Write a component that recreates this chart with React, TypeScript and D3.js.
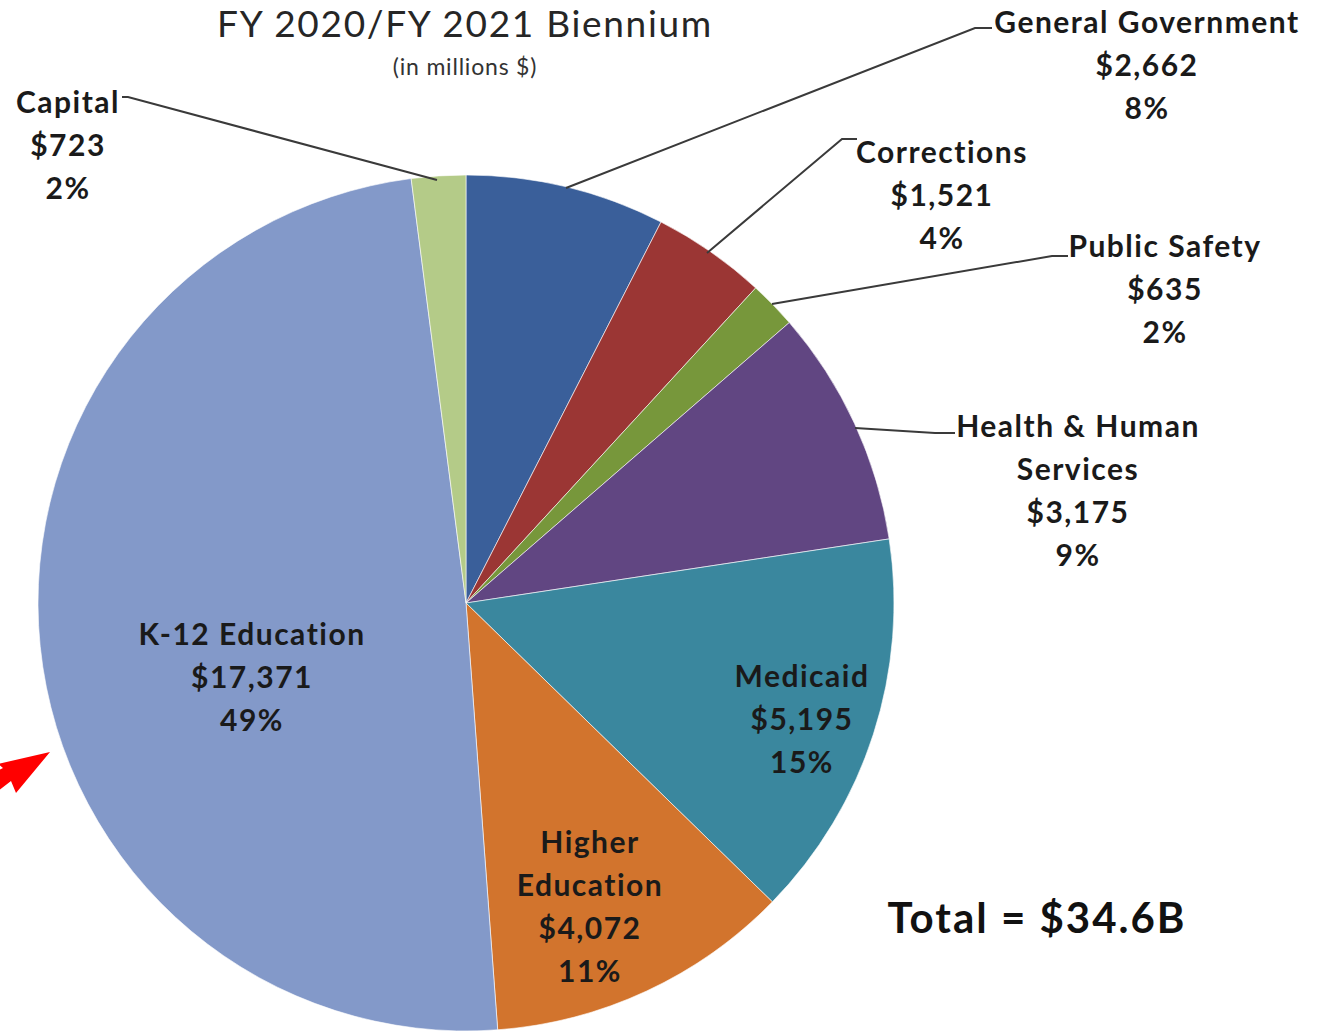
import React from "react";
import * as d3 from "d3";

const categories = ["General Government", "Corrections", "Public Safety", "Health & Human Services", "Medicaid", "Higher Education", "K-12 Education", "Capital"];
const values = [2662, 1521, 635, 3175, 5195, 4072, 17371, 723];
const percentLabels = ["8%", "4%", "2%", "9%", "15%", "11%", "49%", "2%"];
const colors = ["#3A5F9A", "#9B3634", "#77973B", "#614682", "#3A879E", "#D2742D", "#8399C9", "#B4CB88"];
const titleText = "FY 2020/FY 2021 Biennium";
const subtitleText = "(in millions $)";
const totalText = "Total = $34.6B";

// label layout: name lines, center x, first baseline y, leader line points
const labelLayout = [
  { lines: ["General Government"], x: 1147, y: 33, leader: [[566, 188], [975, 28], [992, 28]] },
  { lines: ["Corrections"], x: 942, y: 163, leader: [[707, 253], [842, 139], [857, 139]] },
  { lines: ["Public Safety"], x: 1165, y: 257, leader: [[772, 304], [1052, 256], [1068, 256]] },
  { lines: ["Health & Human", "Services"], x: 1078, y: 437, leader: [[855, 428], [935, 433], [955, 433]] },
  { lines: ["Medicaid"], x: 802, y: 687, leader: null },
  { lines: ["Higher", "Education"], x: 590, y: 853, leader: null },
  { lines: ["K-12 Education"], x: 252, y: 645, leader: null },
  { lines: ["Capital"], x: 68, y: 113, leader: [[437, 180], [128, 97], [122, 97]] },
];

const W = 1333, H = 1034;
const cx = 466, cy = 603, R = 428;
const LH = 43;
const font = "Lato, 'Open Sans', sans-serif";

export default function App() {
  const pie = d3.pie<number>().sort(null).value((d) => d)(values);
  const arc = d3.arc<d3.PieArcDatum<number>>().innerRadius(0).outerRadius(R);
  const fmt = d3.format("$,");
  const line = d3.line();
  return (
    <svg width={W} height={H} style={{ position: "absolute", left: 0, top: 0, background: "#fff" }}>
      <rect width={W} height={H} fill="#fff" />
      <text x={465} y={37} textAnchor="middle" fontFamily={font} fontSize={37} letterSpacing={1.7} fill="#262626">{titleText}</text>
      <text x={465} y={75} textAnchor="middle" fontFamily={font} fontSize={23} letterSpacing={0.8} fill="#333">{subtitleText}</text>
      <g transform={`translate(${cx},${cy})`}>
        {pie.map((p, i) => (
          <path key={i} d={arc(p) as string} fill={colors[i]} stroke="#fff" strokeWidth={0.6} />
        ))}
      </g>
      {labelLayout.map((l, i) => (
        <g key={i}>
          {l.leader && (
            <path d={line(l.leader as [number, number][]) as string} fill="none" stroke="#3a3a3a" strokeWidth={2} />
          )}
          <text textAnchor="middle" fontFamily={font} fontWeight="bold" fontSize={30} letterSpacing={1.5} fill="#1a1a1a">
            {[...l.lines, fmt(values[i]), percentLabels[i]].map((t, j) => (
              <tspan key={j} x={l.x} y={l.y + j * LH}>{t}</tspan>
            ))}
          </text>
        </g>
      ))}
      <text x={1037} y={933} textAnchor="middle" fontFamily={font} fontWeight="bold" fontSize={42} letterSpacing={2} fill="#111">{totalText}</text>
      <path d="M50,752 L16,793 L11,781 L-10,797 L-10,774 L3,768 L-2,764 Z" fill="#FF0000" />
    </svg>
  );
}
